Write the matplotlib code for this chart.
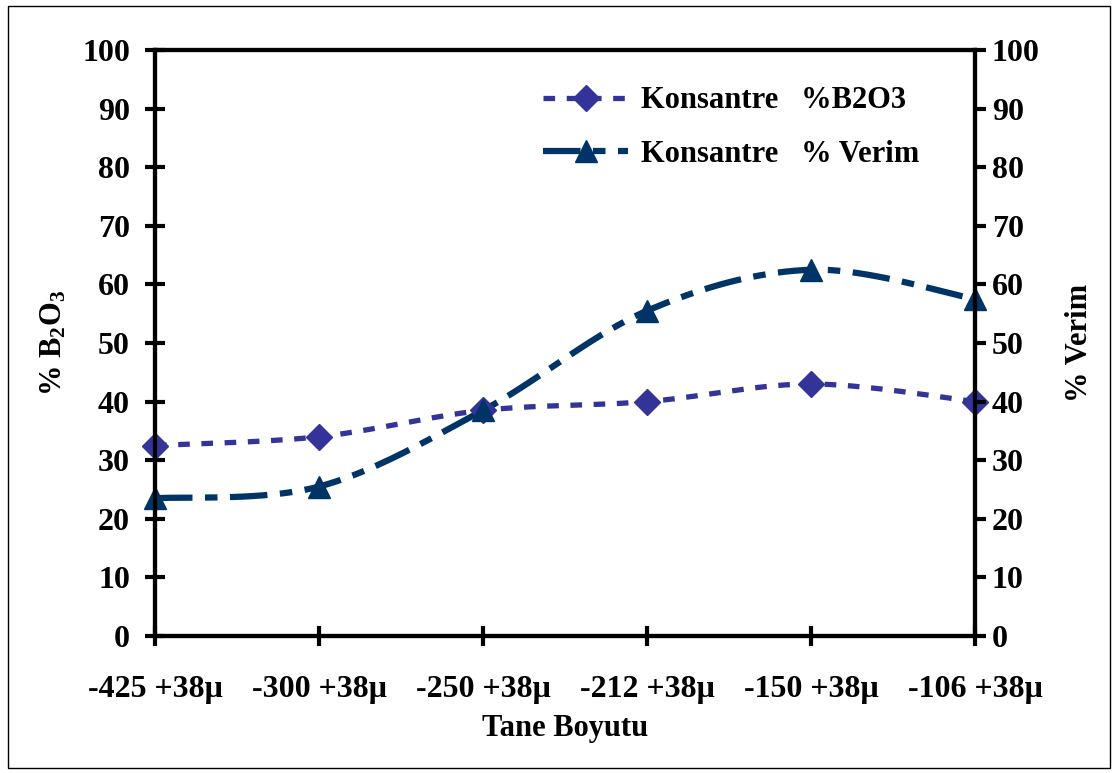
import numpy as np
import matplotlib
matplotlib.use("Agg")
import matplotlib.pyplot as plt
from matplotlib.patches import Rectangle

plt.rcParams['font.family'] = ['Liberation Serif', 'DejaVu Serif']
plt.rcParams['font.weight'] = 'bold'
plt.rcParams['mathtext.fontset'] = 'custom'
plt.rcParams['mathtext.rm'] = 'Liberation Serif:bold'
plt.rcParams['mathtext.bf'] = 'Liberation Serif:bold'
plt.rcParams['mathtext.it'] = 'Liberation Serif:bold'

# Veriler
tane_boyutu = ["-425 +38\u03bc", "-300 +38\u03bc", "-250 +38\u03bc",
               "-212 +38\u03bc", "-150 +38\u03bc", "-106 +38\u03bc"]
b2o3 = [32.5, 34.0, 38.5, 40.0, 43.0, 40.0]
verim = [23.5, 25.5, 38.5, 55.5, 62.5, 57.5]


def excel_smooth(y, n=40):
    # Excel tarzı yumuşatılmış çizgi (Catmull-Rom -> Bezier)
    x = np.arange(len(y), dtype=float)
    y = np.asarray(y, dtype=float)
    px = np.concatenate([[x[0]], x, [x[-1]]])
    py = np.concatenate([[y[0]], y, [y[-1]]])
    xs, ys = [], []
    t = np.linspace(0, 1, n)
    for i in range(len(x) - 1):
        p0 = np.array([px[i + 1], py[i + 1]])
        p3 = np.array([px[i + 2], py[i + 2]])
        c1 = p0 + (np.array([px[i + 2], py[i + 2]]) - np.array([px[i], py[i]])) / 6
        c2 = p3 - (np.array([px[i + 3], py[i + 3]]) - np.array([px[i + 1], py[i + 1]])) / 6
        bx = (1 - t)**3 * p0[0] + 3 * (1 - t)**2 * t * c1[0] + 3 * (1 - t) * t**2 * c2[0] + t**3 * p3[0]
        by = (1 - t)**3 * p0[1] + 3 * (1 - t)**2 * t * c1[1] + 3 * (1 - t) * t**2 * c2[1] + t**3 * p3[1]
        xs.extend(bx)
        ys.extend(by)
    return np.array(xs), np.array(ys)


fig = plt.figure(figsize=(11.18, 7.73), dpi=100)
ax = fig.add_axes([155 / 1118, 1 - 636 / 773, 820 / 1118, 586 / 773])
ax2 = ax.twinx()

c_b = '#333399'
c_v = '#003366'
x = np.arange(len(tane_boyutu))
dash_b = (2.2, 2.2)
dash_v = (6, 2, 2, 2)

sx, sy = excel_smooth(b2o3)
ax.plot(sx, sy, color=c_b, lw=3.8, dashes=dash_b, dash_capstyle='butt', clip_on=False)
ax.plot(x, b2o3, ls='none', marker='D', ms=13, color=c_b, clip_on=False, zorder=5)

vx, vy = excel_smooth(verim)
ax.plot(vx, vy, color=c_v, lw=4.5, dashes=dash_v, dash_capstyle='butt', clip_on=False)
ax.plot(x, verim, ls='none', marker='^', ms=16, color=c_v, clip_on=False, zorder=5)

# Legend için vekil çizgiler
h1, = ax.plot([], [], color=c_b, lw=3.8, dashes=dash_b, marker='D', ms=13)
h2, = ax.plot([], [], color=c_v, lw=4.5, dashes=dash_v, marker='^', ms=16)
leg = ax.legend([h1, h2], ["Konsantre   %B2O3", "Konsantre   % Verim"],
                loc='upper right', bbox_to_anchor=(0.965, 0.985), frameon=False,
                fontsize=22, handlelength=2.8, labelspacing=0.8, handletextpad=0.4)

for a in (ax, ax2):
    a.set_ylim(0, 100)
    a.set_yticks(range(0, 101, 10))
    for s in a.spines.values():
        s.set_linewidth(3)
ax.set_xlim(0, len(tane_boyutu) - 1)
ax.set_xticks(x)
ax.set_xticklabels(tane_boyutu)

ax.tick_params(axis='y', direction='inout', length=14, width=3, labelsize=23, pad=11)
ax.tick_params(axis='x', direction='inout', length=14, width=3, labelsize=23, pad=21)
ax2.tick_params(axis='y', direction='out', length=8, width=3, labelsize=23, pad=4)

ax.set_ylabel("% B$_{2}$O$_{3}$", fontsize=22, fontweight='bold', labelpad=10)
ax2.set_ylabel("% Verim", fontsize=22, fontweight='bold', labelpad=18)
ax.set_xlabel("Tane Boyutu", fontsize=22, fontweight='bold', labelpad=7)

fig.patches.append(Rectangle((8 / 1118, 5 / 773), 1102 / 1118, 762 / 773,
                             transform=fig.transFigure, fill=False, ec='black', lw=1))

fig.savefig("out.png", dpi=100)
